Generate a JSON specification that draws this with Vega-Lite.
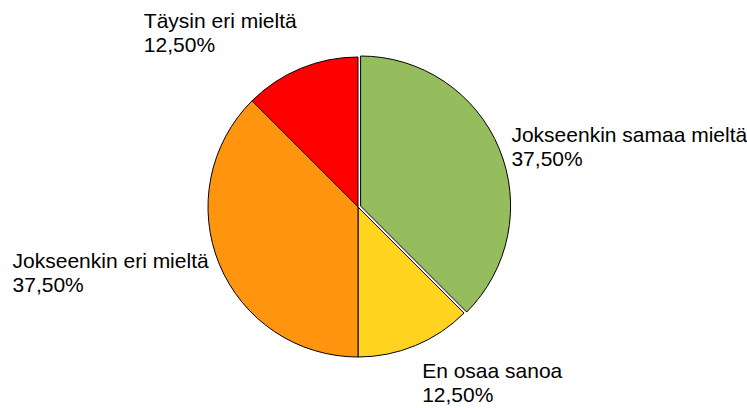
{
  "$schema": "https://vega.github.io/schema/vega-lite/v6.json",
  "width": 716,
  "height": 402,
  "autosize": {"type": "none"},
  "padding": {"left": 0, "top": 6, "right": 31, "bottom": 0},
  "background": "white",
  "view": {"stroke": null},
  "data": {
    "values": [
      {"category": "Jokseenkin samaa mieltä", "value": 37.5, "rank": 1, "label": "Jokseenkin samaa mieltä\n37,50%"},
      {"category": "En osaa sanoa", "value": 12.5, "rank": 2, "label": "En osaa sanoa\n12,50%"},
      {"category": "Jokseenkin eri mieltä", "value": 37.5, "rank": 3, "label": "Jokseenkin eri mieltä\n37,50%"},
      {"category": "Täysin eri mieltä", "value": 12.5, "rank": 4, "label": "Täysin eri mieltä\n12,50%"}
    ]
  },
  "layer": [
    {
      "transform": [
        {"stack": "value", "groupby": [], "sort": [{"field": "rank", "order": "ascending"}], "as": ["t0", "t1"]},
        {"filter": "datum.rank != 1"}
      ],
      "mark": {"type": "arc", "outerRadius": 150, "stroke": "black", "strokeWidth": 1},
      "encoding": {
        "theta": {"field": "t0", "type": "quantitative", "scale": {"domain": [0, 100]}},
        "theta2": {"field": "t1"},
        "color": {
          "field": "category", "type": "nominal", "legend": null,
          "scale": {
            "domain": ["Jokseenkin samaa mieltä", "En osaa sanoa", "Jokseenkin eri mieltä", "Täysin eri mieltä"],
            "range": ["#95BD5E", "#FFD320", "#FF950E", "#FF0000"]
          }
        }
      }
    },
    {
      "transform": [
        {"stack": "value", "groupby": [], "sort": [{"field": "rank", "order": "ascending"}], "as": ["t0", "t1"]},
        {"filter": "datum.rank == 1"}
      ],
      "mark": {"type": "arc", "outerRadius": 150, "stroke": "black", "strokeWidth": 1, "xOffset": 2.6, "yOffset": -1},
      "encoding": {
        "theta": {"field": "t0", "type": "quantitative", "scale": {"domain": [0, 100]}},
        "theta2": {"field": "t1"},
        "color": {"field": "category", "type": "nominal", "legend": null}
      }
    },
    {
      "mark": {"type": "text", "radius": 165, "align": "left", "baseline": "alphabetic", "lineBreak": "\n", "lineHeight": 24, "font": "Liberation Sans", "fontSize": 21, "fill": "black", "dx": 1, "dy": -2},
      "encoding": {
        "theta": {"field": "value", "type": "quantitative", "stack": true, "scale": {"domain": [0, 100]}},
        "order": {"field": "rank", "type": "quantitative"},
        "text": {"condition": {"test": "datum.rank == 1", "field": "label"}, "value": ""}
      }
    },
    {
      "mark": {"type": "text", "radius": 165, "align": "left", "baseline": "alphabetic", "lineBreak": "\n", "lineHeight": 24, "font": "Liberation Sans", "fontSize": 21, "fill": "black", "dx": 1, "dy": 19},
      "encoding": {
        "theta": {"field": "value", "type": "quantitative", "stack": true, "scale": {"domain": [0, 100]}},
        "order": {"field": "rank", "type": "quantitative"},
        "text": {"condition": {"test": "datum.rank == 2", "field": "label"}, "value": ""}
      }
    },
    {
      "mark": {"type": "text", "radius": 165, "align": "left", "baseline": "alphabetic", "lineBreak": "\n", "lineHeight": 24, "font": "Liberation Sans", "fontSize": 21, "fill": "black", "dx": -193, "dy": -2},
      "encoding": {
        "theta": {"field": "value", "type": "quantitative", "stack": true, "scale": {"domain": [0, 100]}},
        "order": {"field": "rank", "type": "quantitative"},
        "text": {"condition": {"test": "datum.rank == 3", "field": "label"}, "value": ""}
      }
    },
    {
      "mark": {"type": "text", "radius": 165, "align": "left", "baseline": "alphabetic", "lineBreak": "\n", "lineHeight": 24, "font": "Liberation Sans", "fontSize": 21, "fill": "black", "dx": -151, "dy": -27},
      "encoding": {
        "theta": {"field": "value", "type": "quantitative", "stack": true, "scale": {"domain": [0, 100]}},
        "order": {"field": "rank", "type": "quantitative"},
        "text": {"condition": {"test": "datum.rank == 4", "field": "label"}, "value": ""}
      }
    }
  ]
}
